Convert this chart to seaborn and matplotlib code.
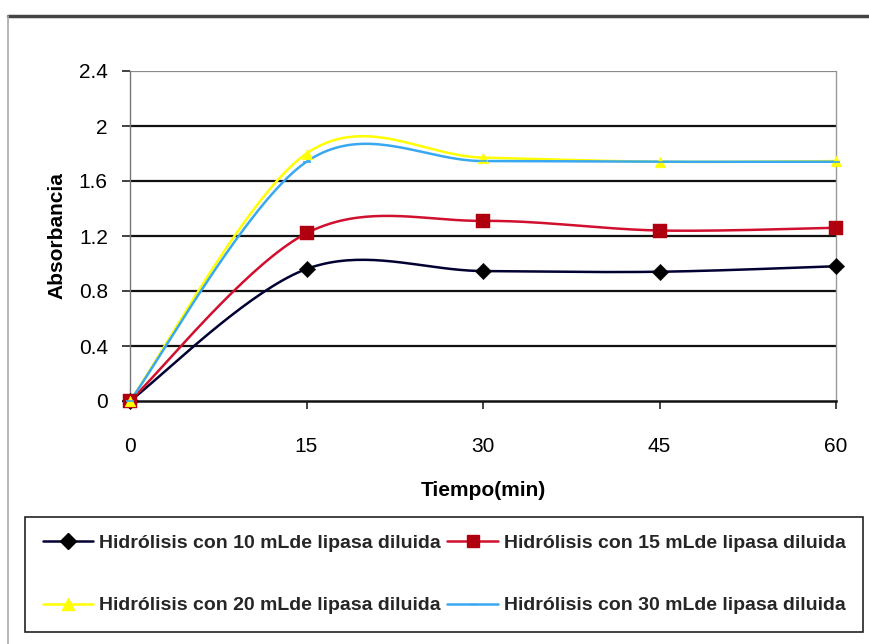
import numpy as np
import pandas as pd
import matplotlib
matplotlib.use("Agg")
import matplotlib.pyplot as plt
from matplotlib.lines import Line2D
import seaborn as sns

# Hydrolysis time (min) and absorbance readings for each lipase volume
tiempo = [0, 15, 30, 45, 60]
abs_10ml = [0.0, 0.96, 0.945, 0.94, 0.98]
abs_15ml = [0.0, 1.22, 1.31, 1.24, 1.26]
abs_20ml = [0.0, 1.80, 1.77, 1.74, 1.745]
abs_30ml = [0.0, 1.74, 1.745, 1.74, 1.74]

series_names = [
    "Hidrólisis con 10 mLde lipasa diluida",
    "Hidrólisis con 15 mLde lipasa diluida",
    "Hidrólisis con 20 mLde lipasa diluida",
    "Hidrólisis con 30 mLde lipasa diluida",
]
series_values = [abs_10ml, abs_15ml, abs_20ml, abs_30ml]
line_colors = ["#000033", "#D0102E", "#FFFF00", "#3AA8F0"]
marker_colors = ["#000000", "#B00010", "#FFFF00", "#3AA8F0"]
markers = ["D", "s", "^", "_"]
marker_sizes = [70, 90, 60, 40]

y_ticks = [0, 0.4, 0.8, 1.2, 1.6, 2.0, 2.4]
y_tick_labels = ["0", "0.4", "0.8", "1.2", "1.6", "2", "2.4"]
x_ticks = [0, 15, 30, 45, 60]


def smooth_curve(xs, ys, n=40):
    """Catmull-Rom style Bezier smoothing through every data point."""
    pts = np.column_stack([xs, ys]).astype(float)
    padded = np.vstack([pts[0], pts, pts[-1]])
    out = []
    t = np.linspace(0, 1, n)[:, None]
    for i in range(1, len(padded) - 2):
        p0, p1, p2, p3 = padded[i - 1], padded[i], padded[i + 1], padded[i + 2]
        c1 = p1 + (p2 - p0) / 6.0
        c2 = p2 - (p3 - p1) / 6.0
        seg = ((1 - t) ** 3) * p1 + 3 * ((1 - t) ** 2) * t * c1 \
            + 3 * (1 - t) * t ** 2 * c2 + t ** 3 * p2
        out.append(seg if i == 1 else seg[1:])
    return np.vstack(out)


frames = []
for name, vals in zip(series_names, series_values):
    c = smooth_curve(tiempo, vals)
    frames.append(pd.DataFrame({"x": c[:, 0], "y": c[:, 1], "serie": name}))
curves = pd.concat(frames, ignore_index=True)

points = pd.concat(
    [pd.DataFrame({"x": tiempo, "y": v, "serie": n}) for n, v in zip(series_names, series_values)],
    ignore_index=True,
)

sns.set_theme(style="white")
plt.rcParams["font.family"] = ["Liberation Sans", "DejaVu Sans"]

fig = plt.figure(figsize=(8.69, 6.44), dpi=100)
ax = fig.add_axes([130 / 869, 1 - 401 / 644, (836 - 130) / 869, (401 - 71) / 644])

# horizontal gridlines
for yv in y_ticks[1:]:
    ax.axhline(yv, color="#111111" if yv < 2.4 else "#8a8a8a", lw=1.6, zorder=0)

sns.lineplot(data=curves, x="x", y="y", hue="serie", palette=dict(zip(series_names, line_colors)),
             sort=False, estimator=None, lw=1.8, legend=False, ax=ax, zorder=3)

for name, mk, mc, ms in zip(series_names, markers, marker_colors, marker_sizes):
    sub = points[points["serie"] == name]
    sns.scatterplot(data=sub, x="x", y="y", marker=mk, color=mc, s=ms,
                    edgecolor=mc, linewidth=1.2 if mk == "_" else 0.3,
                    legend=False, ax=ax, zorder=4, clip_on=False)

ax.set_xlim(0, 60)
ax.set_ylim(0, 2.4)
ax.set_xticks(x_ticks)
ax.set_xticklabels([str(v) for v in x_ticks])
ax.set_yticks(y_ticks)
ax.set_yticklabels(y_tick_labels)

ax.spines["top"].set_visible(False)
ax.spines["left"].set_color("#777777")
ax.spines["right"].set_color("#999999")
ax.spines["bottom"].set_color("#111111")
ax.spines["left"].set_linewidth(1.0)
ax.spines["right"].set_linewidth(1.0)
ax.spines["bottom"].set_linewidth(1.8)

ax.tick_params(axis="both", which="major", direction="out", length=6, width=1.2,
               color="#222222", labelsize=15, labelcolor="#000000")
ax.tick_params(axis="x", pad=20)
ax.tick_params(axis="y", pad=10)
ax.xaxis.set_ticks_position("bottom")
ax.yaxis.set_ticks_position("left")

ax.set_xlabel("Tiempo(min)", fontsize=15, fontweight="bold", labelpad=18, color="#000000")
ax.set_ylabel("Absorbancia", fontsize=15, fontweight="bold", labelpad=9, color="#000000")

# legend: two rows, filled column-wise -> order 10, 20 | 15, 30
order = [0, 2, 1, 3]
handles = []
for i in order:
    mk = markers[i]
    handles.append(Line2D([], [], color=line_colors[i], lw=1.8, marker=mk,
                          markersize=8 if mk != "_" else 6,
                          markerfacecolor=marker_colors[i], markeredgecolor=marker_colors[i],
                          label=series_names[i]))
leg = fig.legend(handles=handles, ncol=2, loc="center",
                 bbox_to_anchor=(25 / 869, 1 - 637 / 644, (863 - 25) / 869, (637 - 512) / 644),
                 mode="expand", frameon=True, fancybox=False, shadow=False, framealpha=1.0,
                 prop={"size": 14, "weight": "bold"}, handlelength=2.6, handletextpad=0.3,
                 columnspacing=1.0, labelspacing=2.3, borderpad=0.9, borderaxespad=0)
leg.get_frame().set_edgecolor("#222222")
leg.get_frame().set_linewidth(1.2)

# outer chart-area frame
fig.add_artist(Line2D([8 / 869, 1.0], [1 - 16 / 644, 1 - 16 / 644], color="#444444", lw=2.5,
                      transform=fig.transFigure))
fig.add_artist(Line2D([8 / 869, 8 / 869], [0.0, 1 - 16 / 644], color="#aaaaaa", lw=1.2,
                      transform=fig.transFigure))

fig.savefig("out.png", dpi=100, facecolor="white")
